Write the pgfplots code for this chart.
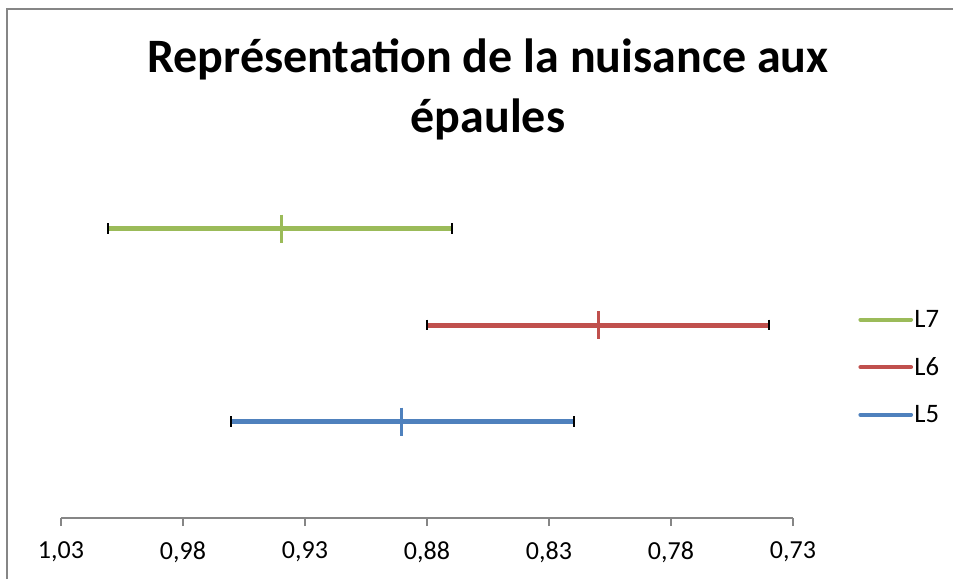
\documentclass[border=0pt]{standalone}
\usepackage{fontspec}
\setmainfont{Carlito}
\usepackage{pgfplots}
\pgfplotsset{compat=1.18}
\definecolor{cgreen}{HTML}{9BBB59}
\definecolor{cred}{HTML}{C0504D}
\definecolor{cblue}{HTML}{4F81BD}
\definecolor{cgray}{HTML}{868686}
\begin{document}
\begin{tikzpicture}
\useasboundingbox (0pt,0pt) rectangle (714.75pt,434.25pt);
\draw[cgray, line width=1.5pt] (5.25pt,0pt) -- (5.25pt,427.5pt) -- (714.75pt,427.5pt);
\node[font=\bfseries\fontsize{36}{45}\selectfont, align=center, anchor=center] at (366pt,367pt) {Représentation de la nuisance aux\\épaules};
\begin{axis}[
  at={(45.75pt,45.75pt)}, anchor=south west,
  scale only axis, width=549pt, height=289.5pt,
  x dir=reverse,
  xmin=0.73, xmax=1.03, ymin=0, ymax=4,
  axis x line*=bottom, axis y line=none,
  x axis line style={cgray, line width=1pt, -},
  xtick={0.73,0.78,0.83,0.88,0.93,0.98,1.03},
  tick align=outside, major tick length=6pt,
  xtick style={cgray, line width=0.8pt},
  xticklabel style={font=\fontsize{19.5}{23}\selectfont, yshift=-8pt},
  /pgf/number format/.cd, assume math mode=true, use comma, fixed, fixed zerofill, precision=2,
  /pgfplots/.cd,
  clip=false,
  legend style={draw=none, fill=none, at={(1.089,0.391)}, anchor=west, inner sep=0pt,
    font=\fontsize{20}{23}\selectfont, row sep=19pt,
    nodes={inner sep=1pt}},
  legend cell align=left,
  legend image code/.code={\draw[line width=3pt, line cap=round, #1] (0,0) -- (38pt,0);},
]
% L7
\addplot[cgreen, line width=3.75pt] coordinates {(1.0107,3) (0.8698,3)};
\addlegendentry{L7}
% L6
\addplot[cred, line width=3.75pt] coordinates {(0.88,2) (0.7398,2)};
\addlegendentry{L6}
% L5
\addplot[cblue, line width=3.75pt] coordinates {(0.9603,1) (0.8198,1)};
\addlegendentry{L5}
% caps
\addplot[black, only marks, mark=|, mark size=4pt, mark options={line width=1.5pt}, forget plot] coordinates {(1.0107,3) (0.8698,3) (0.88,2) (0.7398,2) (0.9603,1) (0.8198,1)};
% centres
\addplot[cgreen, only marks, mark=+, mark size=10.5pt, mark options={line width=2.25pt}, forget plot] coordinates {(0.9398,3)};
\addplot[cred, only marks, mark=+, mark size=10.5pt, mark options={line width=2.25pt}, forget plot] coordinates {(0.8099,2)};
\addplot[cblue, only marks, mark=+, mark size=10.5pt, mark options={line width=2.25pt}, forget plot] coordinates {(0.8903,1)};
\end{axis}
\end{tikzpicture}
\end{document}
